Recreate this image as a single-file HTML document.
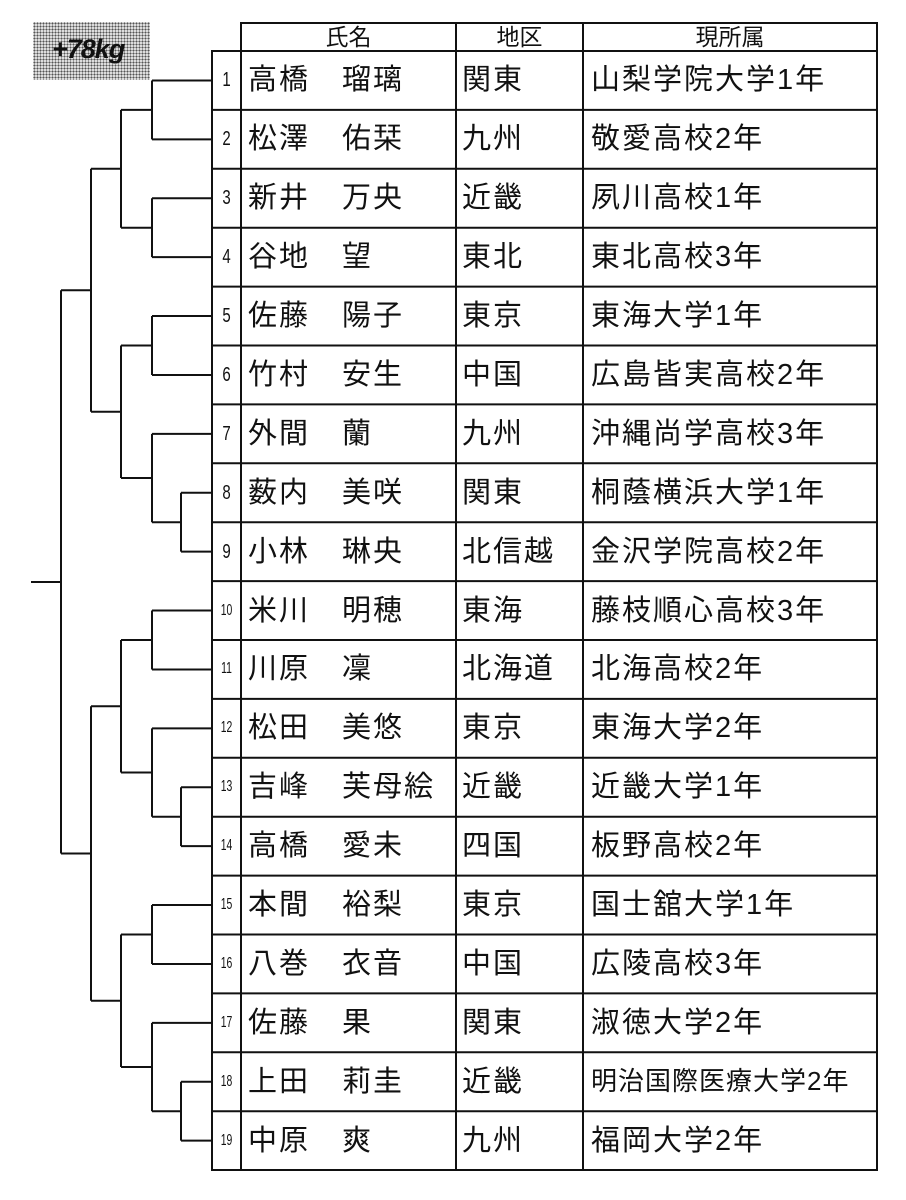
<!DOCTYPE html>
<html><head><meta charset="utf-8"><style>
html,body{margin:0;padding:0;background:#fff;}
body{width:906px;height:1200px;position:relative;overflow:hidden;font-family:"Liberation Sans","Noto Sans CJK JP",sans-serif;color:#111;}
.t{position:absolute;white-space:nowrap;line-height:1;}
.n{position:absolute;width:29px;text-align:center;line-height:1;}
</style></head><body>
<div style="position:absolute;left:33px;top:22px;width:117px;height:58px;background-color:#ddd;background-image:radial-gradient(#555 0.8px,transparent 1px);background-size:3px 3px;"></div>
<div class="t" style="left:52px;top:36px;font-size:27px;font-style:italic;font-weight:bold;letter-spacing:-1px;">+78kg</div>
<svg width="906" height="1200" style="position:absolute;left:0;top:0" fill="none" stroke="#111" stroke-width="2">
<rect x="212" y="51" width="665" height="1119"/>
<rect x="241" y="23" width="636" height="28"/>
<line x1="241" y1="23" x2="241" y2="1170"/>
<line x1="456" y1="23" x2="456" y2="1170"/>
<line x1="583" y1="23" x2="583" y2="1170"/>
<g id="rows"></g>
<path id="br" d=""/>
</svg>
<div id="c"></div>
<script>
(function(){
var data=[
["1","高橋","瑠璃","関東","山梨学院大学1年"],
["2","松澤","佑栞","九州","敬愛高校2年"],
["3","新井","万央","近畿","夙川高校1年"],
["4","谷地","望","東北","東北高校3年"],
["5","佐藤","陽子","東京","東海大学1年"],
["6","竹村","安生","中国","広島皆実高校2年"],
["7","外間","蘭","九州","沖縄尚学高校3年"],
["8","薮内","美咲","関東","桐蔭横浜大学1年"],
["9","小林","琳央","北信越","金沢学院高校2年"],
["10","米川","明穂","東海","藤枝順心高校3年"],
["11","川原","凜","北海道","北海高校2年"],
["12","松田","美悠","東京","東海大学2年"],
["13","吉峰","芙母絵","近畿","近畿大学1年"],
["14","高橋","愛未","四国","板野高校2年"],
["15","本間","裕梨","東京","国士舘大学1年"],
["16","八巻","衣音","中国","広陵高校3年"],
["17","佐藤","果","関東","淑徳大学2年"],
["18","上田","莉圭","近畿","明治国際医療大学2年"],
["19","中原","爽","九州","福岡大学2年"]];
var H=58.9,T=51,h='',g='';
function cy(i){return T+(i+0.5)*H;}
h+='<div class="t" style="left:241px;width:215px;text-align:center;top:26px;font-size:23px">氏名</div>';
h+='<div class="t" style="left:456px;width:127px;text-align:center;top:26px;font-size:23px">地区</div>';
h+='<div class="t" style="left:583px;width:294px;text-align:center;top:26px;font-size:23px">現所属</div>';
data.forEach(function(r,i){
 var y=cy(i);
 if(i>0)g+='<line x1="212" y1="'+(T+i*H)+'" x2="877" y2="'+(T+i*H)+'"/>';
 var small=r[0].length>1;
 h+='<div class="n" style="left:212px;top:'+(y-(small?8:10))+'px;font-size:'+(small?16:20)+'px;transform:scaleX('+(small?0.65:0.75)+')">'+r[0]+'</div>';
 h+='<div class="t" style="left:248px;top:'+(y-14)+'px;font-size:29px;letter-spacing:2px">'+r[1]+'</div>';
 h+='<div class="t" style="left:342px;top:'+(y-14)+'px;font-size:29px;letter-spacing:2px">'+r[2]+'</div>';
 h+='<div class="t" style="left:462px;top:'+(y-14)+'px;font-size:29px;letter-spacing:2px">'+r[3]+'</div>';
 var fs=r[4].length>9?26:29, ls=r[4].length>9?1:2;
 h+='<div class="t" style="left:591px;top:'+(y-14)+'px;font-size:'+fs+'px;letter-spacing:'+ls+'px">'+r[4]+'</div>';
});
document.getElementById('c').innerHTML=h;
document.getElementById('rows').innerHTML=g;
var d='';
function L(x1,y1,x2,y2){d+='M'+x1+' '+y1+'L'+x2+' '+y2;}
function pair(a,b,x,xo){var ya=cy(a),yb=cy(b);L(212,ya,x,ya);L(212,yb,x,yb);L(x,ya,x,yb);L(x,(ya+yb)/2,xo,(ya+yb)/2);return (ya+yb)/2;}
var a=pair(0,1,152,121),b=pair(2,3,152,121);L(121,a,121,b);L(121,(a+b)/2,91,(a+b)/2);var m1=(a+b)/2;
var c=pair(4,5,152,121);
var e=pair(7,8,181,152);var y7=cy(6);L(212,y7,152,y7);L(152,y7,152,e);var f=(y7+e)/2;L(152,f,121,f);
L(121,c,121,f);var m2=(c+f)/2;L(121,m2,91,m2);
L(91,m1,91,m2);var tp=(m1+m2)/2;L(91,tp,61,tp);
var p=pair(9,10,152,121);
var q=pair(12,13,181,152);var y12=cy(11);L(212,y12,152,y12);L(152,y12,152,q);var r2=(y12+q)/2;L(152,r2,121,r2);
L(121,p,121,r2);var m3=(p+r2)/2;L(121,m3,91,m3);
var s=pair(14,15,152,121);
var u=pair(17,18,181,152);var y17=cy(16);L(212,y17,152,y17);L(152,y17,152,u);var v=(y17+u)/2;L(152,v,121,v);
L(121,s,121,v);var m4=(s+v)/2;L(121,m4,91,m4);
L(91,m3,91,m4);var bt=(m3+m4)/2;L(91,bt,61,bt);
L(61,tp,61,bt);L(61,582,31,582);
document.getElementById('br').setAttribute('d',d);
})();
</script>
</body></html>
